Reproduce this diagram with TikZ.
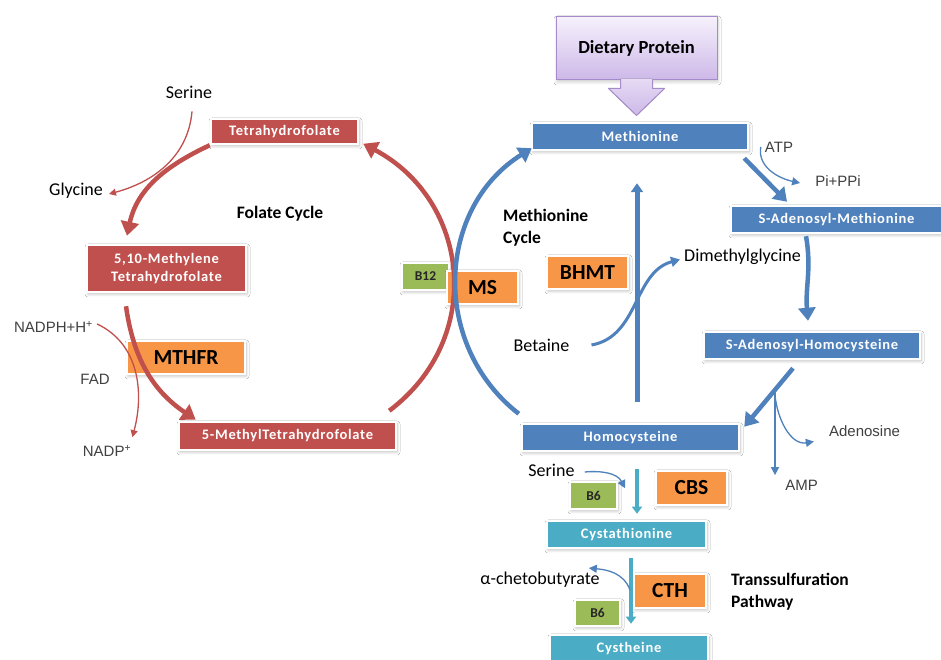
\documentclass[tikz,border=0pt]{standalone}
\usepackage{fontspec}
\setmainfont{Carlito}
\newfontfamily\boxfont[LetterSpace=5]{Carlito}
\newfontfamily\thinfont{Liberation Sans}
\usetikzlibrary{arrows.meta,shadows.blur,calc}
\definecolor{cred}{HTML}{C0504D}
\definecolor{cblue}{HTML}{4F81BD}
\definecolor{cteal}{HTML}{4BACC6}
\definecolor{corange}{HTML}{F79646}
\definecolor{cgreen}{HTML}{9BBB59}
\definecolor{dtop}{HTML}{F6F1FC}
\definecolor{dbot}{HTML}{CDB8E8}
\definecolor{dline}{HTML}{A58BC9}
\tikzset{
  box/.style={draw=white, line width=2.5pt,
    blur shadow={shadow xshift=1pt, shadow yshift=-2pt, shadow blur radius=3pt, shadow blur steps=6, shadow opacity=25},
    inner sep=0pt, align=center, text=white,
    font=\boxfont\bfseries\fontsize{14.5}{18}\selectfont},
  redbox/.style={box, fill=cred},
  bluebox/.style={box, fill=cblue},
  tealbox/.style={box, fill=cteal},
  enz/.style={box, fill=corange, text=black, font=\bfseries\fontsize{21.5}{24}\selectfont},
  vit/.style={box, fill=cgreen, text=black!85, font=\bfseries\fontsize{13.5}{15}\selectfont},
  lab/.style={font=\fontsize{18}{20}\selectfont, inner sep=1pt},
  thinlab/.style={font=\thinfont\fontsize{15}{17}\selectfont, text=black!75, inner sep=1pt},
  title/.style={font=\bfseries\fontsize{17.5}{22}\selectfont, align=left, inner sep=0pt},
  dietbox/.style={draw=dline, line width=1pt, top color=dtop, bottom color=dbot,
    blur shadow={shadow xshift=1pt, shadow yshift=-2pt, shadow blur radius=3pt, shadow blur steps=6, shadow opacity=20},
    font=\bfseries\fontsize{18.5}{20}\selectfont},
  redarr/.style={draw=cred, line width=4.5pt, -{Triangle[length=14pt,width=18pt]}},
  bluearr/.style={draw=cblue, line width=4.5pt, -{Triangle[length=13pt,width=17pt]}},
  tealarr/.style={draw=cteal, line width=4.5pt, -{Triangle[length=7pt,width=10pt]}},
  thinred/.style={draw=cred, line width=1.3pt, -{Triangle[length=7pt,width=7pt]}},
  thinblue/.style={draw=cblue, line width=1.3pt, -{Triangle[length=8pt,width=8pt]}},
}
\begin{document}
\begin{tikzpicture}[x=1pt,y=1pt]
\fill[white] (0,0) rectangle (941,660);
\useasboundingbox (0,0) rectangle (941,660);

% Folate cycle boxes
\node[redbox, minimum width=147, minimum height=25] (thf) at (284.5,528.5) {Tetrahydrofolate};
\node[redbox, minimum width=159, minimum height=47] (mthf) at (166.5,391.5) {5,10-Methylene\\Tetrahydrofolate};
\node[redbox, minimum width=217, minimum height=28] (mefol) at (287.5,224) {5-MethylTetrahydrofolate};
\node[enz, minimum width=118, minimum height=33] (mthfr) at (186,302.5) {MTHFR};
\node[vit, minimum width=47, minimum height=27] (b12) at (425.5,383.5) {B12};
\node[enz, minimum width=71, minimum height=33] (ms) at (482.5,372.5) {MS};
\node[enz, minimum width=81, minimum height=33] (bhmt) at (587.5,387.5) {BHMT};

% Dietary protein
\node[dietbox, minimum width=161, minimum height=63] (diet) at (636.5,611.5) {Dietary Protein};
\fill[top color=dtop!60!dbot, bottom color=dbot]
  ($(diet.south)+(-16,1.5)$) -- ($(diet.south)+(-16,-8)$) -- ($(diet.south)+(-28,-8)$)
  -- ($(diet.south)+(0,-35)$) -- ($(diet.south)+(28,-8)$) -- ($(diet.south)+(16,-8)$)
  -- ($(diet.south)+(16,1.5)$) -- cycle;
\draw[dline, line width=1pt, line join=round]
  ($(diet.south)+(-16,0)$) -- ($(diet.south)+(-16,-8)$) -- ($(diet.south)+(-28,-8)$)
  -- ($(diet.south)+(0,-35)$) -- ($(diet.south)+(28,-8)$) -- ($(diet.south)+(16,-8)$)
  -- ($(diet.south)+(16,0)$);

% Methionine cycle boxes
\node[bluebox, minimum width=216, minimum height=27] (met) at (640,523.5) {Methionine};
\node[bluebox, minimum width=211, minimum height=27] (sam) at (836.5,440.5) {S-Adenosyl-Methionine};
\node[bluebox, minimum width=216, minimum height=27] (sah) at (812,314.5) {S-Adenosyl-Homocysteine};
\node[bluebox, minimum width=217, minimum height=27] (hcy) at (630.5,222.5) {Homocysteine};

% Transsulfuration boxes
\node[tealbox, minimum width=159, minimum height=27] (cysta) at (626.5,125.5) {Cystathionine};
\node[tealbox, minimum width=158, minimum height=27] (cys) at (629,11.5) {Cystheine};
\node[enz, minimum width=71, minimum height=34] (cbs) at (691.5,172) {CBS};
\node[enz, minimum width=72, minimum height=34] (cth) at (670,69) {CTH};
\node[vit, minimum width=47, minimum height=27] (b6a) at (593.5,164.5) {B6};
\node[vit, minimum width=45, minimum height=26] (b6b) at (597.5,47) {B6};

% Labels
\node[lab] (ser1) at (189,568) {Serine};
\node[lab] (gly) at (76,469) {Glycine};
\node[thinlab] (nadph) at (53.5,333) {NADPH+H\textsuperscript{+}};
\node[thinlab] (fad) at (95,281) {FAD};
\node[thinlab] (nadp) at (107,209) {NADP\textsuperscript{+}};
\node[title] (folate) at (280,446) {Folate Cycle};
\node[title, anchor=west] (metcyc) at (503,432.5) {Methionine\\Cycle};
\node[title, anchor=west] (trans) at (731,68.5) {Transsulfuration\\Pathway};
\node[thinlab] (atp) at (779,513) {ATP};
\node[thinlab] (pi) at (838,479) {Pi+PPi};
\node[lab] (dmg) at (742.5,403.5) {Dimethylglycine};
\node[lab] (bet) at (541.5,315) {Betaine};
\node[thinlab] (adn) at (864.5,228.5) {Adenosine};
\node[thinlab] (amp) at (801.5,174.5) {AMP};
\node[lab] (ser2) at (551.5,190) {Serine};
\node[lab] (akb) at (540,80) {α-chetobutyrate};

% Folate cycle arrows
\draw[redarr] (thf.south west) to[out=205,in=78] ([xshift=-39.5pt,yshift=8pt]mthf.north);
\draw[redarr] ([xshift=-40.5pt,yshift=-13pt]mthf.south) to[out=-82,in=146] ([xshift=18pt,yshift=1pt]mefol.north west);
\draw[redarr] ([xshift=-8pt,yshift=10pt]mefol.north east) to[out=37,in=-28,looseness=1.15] ([xshift=4pt,yshift=1.5pt]thf.south east);
\draw[thinred] ([xshift=3pt,yshift=-12pt]ser1.south) to[out=-95,in=15] ([xshift=5pt,yshift=-3pt]gly.east);
\draw[thinred] ([xshift=3pt,yshift=3pt]nadph.east) to[out=-25,in=75] ($(nadp.north east)+(0,7)$);

% Methionine cycle arrows
\draw[bluearr] ([xshift=-2pt,yshift=9pt]hcy.north west) to[out=142,in=212,looseness=1.08] ([xshift=1pt,yshift=3pt]met.south west);
\draw[bluearr] ([xshift=-5pt,yshift=-7pt]met.south east) -- ([xshift=-49.5pt,yshift=3pt]sam.north);
\draw[thinblue] ([xshift=-3pt]atp.west) to[out=-100,in=168] ([xshift=-14pt,yshift=-2pt]pi.west);
\draw[bluearr] ([xshift=-30.5pt,yshift=-2pt]sam.south) to[out=-80,in=95] ([xshift=-4pt,yshift=10pt]sah.north);
\draw[bluearr] ([xshift=-19pt,yshift=-8pt]sah.south) -- ([xshift=4pt,yshift=-4pt]hcy.north east);
\coordinate (br) at (775,271);
\draw[thinblue] (br) -- ($(br |- amp.north)+(0,4)$);
\draw[thinblue] ($(br)+(0,-6)$) to[out=-85,in=190] ([xshift=-14pt,yshift=-10pt]adn.west);
\draw[draw=cblue, line width=5pt, -{Triangle[length=9pt,width=12pt]}] ([xshift=6.5pt,yshift=21pt]hcy.north) -- ([xshift=-3pt,yshift=-32pt]met.south);
\draw[draw=cblue, line width=3pt, -{Triangle[length=9pt,width=10pt]}] ([xshift=21pt]bet.east) to[out=10,in=195] ([xshift=-3pt,yshift=-3pt]dmg.west);

% Transsulfuration arrows
\draw[tealarr] ([xshift=6.5pt,yshift=-17pt]hcy.south) -- ([xshift=10.5pt,yshift=6pt]cysta.north);
\draw[thinblue] ([xshift=9pt,yshift=-2pt]ser2.east) to[out=5,in=117] ([xshift=-5.5pt,yshift=-36pt]hcy.south);
\draw[tealarr] ([xshift=4.5pt,yshift=-9pt]cysta.south) -- ([xshift=2pt,yshift=10pt]cys.north);
\coordinate (br2) at (630,70);
\draw[thinblue] (br2) to[out=110,in=-5] ($(akb.north east)+(-12,3)$);
\end{tikzpicture}
\end{document}
